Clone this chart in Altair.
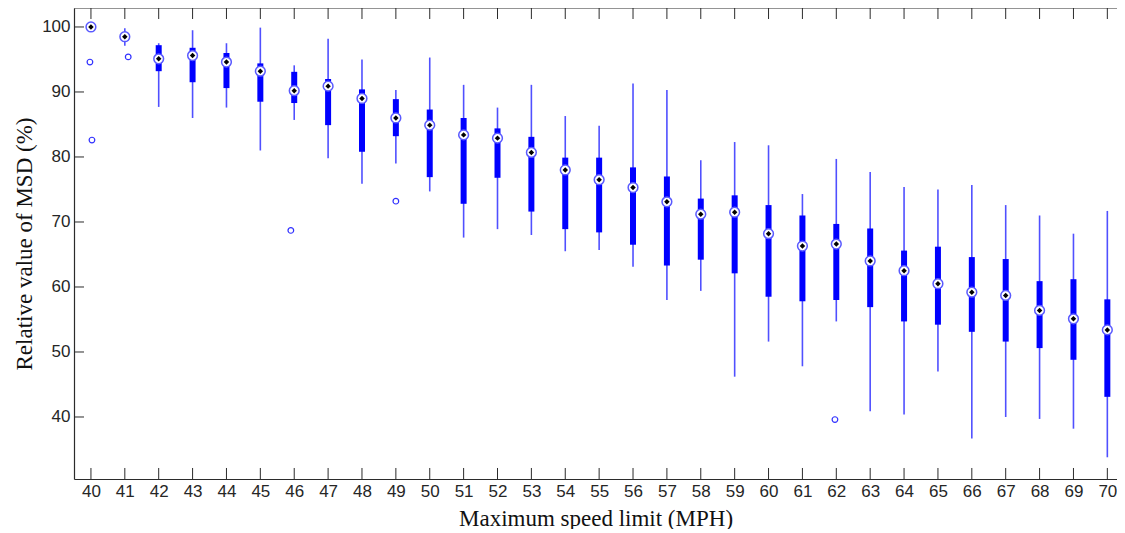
import altair as alt
import pandas as pd

# ---- data ----
speeds = list(range(40, 71))
medians = [100.0, 98.5, 95.1, 95.6, 94.6, 93.2, 90.2, 90.9, 89.0, 86.0,
           84.9, 83.4, 82.9, 80.7, 78.0, 76.5, 75.3, 73.1, 71.2, 71.5,
           68.2, 66.3, 66.6, 64.0, 62.5, 60.5, 59.2, 58.7, 56.4, 55.1, 53.4]
q1 = [100.0, 98.1, 93.2, 91.5, 90.6, 88.5, 88.3, 84.9, 80.8, 83.2,
      76.9, 72.8, 76.8, 71.6, 68.9, 68.4, 66.5, 63.3, 64.2, 62.1,
      58.5, 57.8, 58.0, 56.9, 54.7, 54.2, 53.1, 51.6, 50.6, 48.8, 43.1]
q3 = [100.0, 98.9, 97.2, 96.8, 96.0, 94.4, 93.1, 92.0, 90.4, 88.9,
      87.3, 86.0, 84.4, 83.1, 79.9, 79.9, 78.4, 77.0, 73.6, 74.1,
      72.6, 71.0, 69.7, 69.0, 65.6, 66.2, 64.6, 64.3, 60.9, 61.2, 58.1]
whisker_lo = [100.0, 97.1, 87.7, 86.0, 87.6, 81.0, 85.7, 79.8, 75.9, 79.0,
              74.7, 67.6, 68.9, 68.0, 65.5, 65.7, 63.1, 58.0, 59.4, 46.2,
              51.6, 47.8, 54.7, 40.9, 40.4, 47.0, 36.7, 40.0, 39.7, 38.2, 33.8]
whisker_hi = [100.0, 99.8, 97.5, 99.5, 97.5, 99.9, 94.1, 98.2, 95.0, 90.3,
              95.3, 91.1, 87.6, 91.1, 86.3, 84.8, 91.3, 90.3, 79.5, 82.3,
              81.8, 74.3, 79.7, 77.7, 75.4, 75.0, 75.7, 72.6, 71.0, 68.2, 71.7]
outlier_speed = [39.97, 40.03, 41.1, 45.9, 49.0, 61.96]
outlier_value = [94.6, 82.6, 95.4, 68.7, 73.2, 39.6]
y_ticks = [40, 50, 60, 70, 80, 90, 100]

PLOT_W = 1043
PX_PER_X = 33.88
X_DOMAIN = [39.5, 39.5 + PLOT_W / PX_PER_X]
Y_DOMAIN = [30.46, 102.92]
X_TICK_LEN = 11 / 6.5        # inward tick length expressed in y units
Y_TICK_LEN = 10 / PX_PER_X   # inward tick length expressed in x units

AXIS_COLOR = "#2b2b2b"
LABEL_COLOR = "#262626"

box_df = pd.DataFrame(dict(speed=speeds, med=medians, q1=q1, q3=q3,
                           lo=whisker_lo, hi=whisker_hi))
out_df = pd.DataFrame(dict(speed=outlier_speed, value=outlier_value))
xt_df = pd.DataFrame(dict(speed=speeds))
yt_df = pd.DataFrame(dict(v=y_ticks))

xscale = alt.Scale(domain=X_DOMAIN, nice=False, zero=False)
yscale = alt.Scale(domain=Y_DOMAIN, nice=False, zero=False)

xaxis = alt.Axis(values=speeds, ticks=False, tickSize=0, labelPadding=4,
                 labelFont="Liberation Sans", labelFontSize=17,
                 labelColor=LABEL_COLOR, labelOverlap=False, labelFlush=False,
                 domainColor=AXIS_COLOR, domainWidth=1.2, grid=False, format="d",
                 title="Maximum speed limit (MPH)", titleFont="Liberation Serif",
                 titleFontSize=23, titleFontWeight="normal", titleColor="#111111",
                 titlePadding=8)
yaxis = alt.Axis(values=y_ticks, ticks=False, tickSize=0, labelPadding=4,
                 labelFont="Liberation Sans", labelFontSize=17,
                 labelColor=LABEL_COLOR, labelOverlap=False, labelFlush=False,
                 domainColor=AXIS_COLOR, domainWidth=1.2, grid=False, format="d",
                 title="Relative value of MSD (%)", titleFont="Liberation Serif",
                 titleFontSize=23, titleFontWeight="normal", titleColor="#111111",
                 titlePadding=5)

X = lambda f: alt.X(f, scale=xscale, axis=xaxis)
Y = lambda f: alt.Y(f, scale=yscale, axis=yaxis)

whiskers = alt.Chart(box_df).mark_rule(color="#5050ff", strokeWidth=1.6).encode(
    x=X("speed:Q"), y=Y("lo:Q"), y2="hi:Q")
boxes = alt.Chart(box_df).mark_rule(color="#0000ff", strokeWidth=6, strokeCap="butt").encode(
    x=X("speed:Q"), y=Y("q1:Q"), y2="q3:Q")
ring = alt.Chart(box_df).mark_circle(fill="white", stroke="#5a5aff", strokeWidth=1.5,
                                     size=95, opacity=1).encode(
    x=X("speed:Q"), y=Y("med:Q"))
dot = alt.Chart(box_df).mark_point(shape="diamond", filled=True, color="black",
                                   size=30, opacity=1).encode(
    x=X("speed:Q"), y=Y("med:Q"))
outliers = alt.Chart(out_df).mark_point(shape="circle", filled=False, color="#3030ff",
                                        strokeWidth=1.2, size=32, opacity=1).encode(
    x=X("speed:Q"), y=Y("value:Q"))

bottom_ticks = alt.Chart(xt_df).mark_rule(color=AXIS_COLOR, strokeWidth=1).encode(
    x=X("speed:Q"),
    y=alt.YDatum(Y_DOMAIN[0], scale=yscale, axis=yaxis),
    y2=alt.Y2Datum(Y_DOMAIN[0] + X_TICK_LEN))
top_ticks = alt.Chart(xt_df).mark_rule(color=AXIS_COLOR, strokeWidth=1).encode(
    x=X("speed:Q"),
    y=alt.YDatum(Y_DOMAIN[1], scale=yscale, axis=yaxis),
    y2=alt.Y2Datum(Y_DOMAIN[1] - X_TICK_LEN))
left_ticks = alt.Chart(yt_df).mark_rule(color=AXIS_COLOR, strokeWidth=1).encode(
    y=Y("v:Q"),
    x=alt.XDatum(X_DOMAIN[0], scale=xscale, axis=xaxis),
    x2=alt.X2Datum(X_DOMAIN[0] + Y_TICK_LEN))
top_border = alt.Chart(yt_df.head(1)).mark_rule(color=AXIS_COLOR, strokeWidth=1.2).encode(
    y=alt.YDatum(Y_DOMAIN[1], scale=yscale, axis=yaxis),
    x=alt.XDatum(X_DOMAIN[0], scale=xscale, axis=xaxis),
    x2=alt.X2Datum(X_DOMAIN[1]))

chart = alt.layer(
    whiskers, boxes, outliers, ring, dot,
    bottom_ticks, top_ticks, left_ticks, top_border,
).properties(
    width=PLOT_W, height=471,
    autosize=alt.AutoSizeParams(type="none"),
    padding={"left": 66, "top": 0, "right": 0, "bottom": 50},
).configure_view(stroke=None)

chart.save("out.html", embed_options={"renderer": "svg", "actions": False})
